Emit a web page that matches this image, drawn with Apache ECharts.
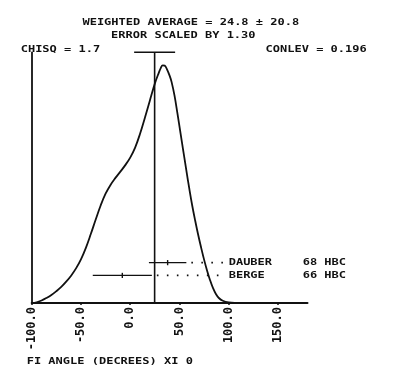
<!DOCTYPE html>
<html>
<head>
<meta charset="utf-8">
<style>
  html, body { margin: 0; padding: 0; background: #ffffff; }
  #chart { width: 393px; height: 382px; }
</style>
<script src="https://cdn.jsdelivr.net/npm/echarts@6/dist/echarts.min.js"></script>
</head>
<body>
<div id="chart"></div>
<script>
// Ideogram of the phi-angle measurements
const tickValues = [-100, -50, 0, 50, 100, 150];
const tickLabels = ['-100.0', '-50.0', '0.0', '50.0', '100.0', '150.0'];

const curveX = [-100, -95, -90, -85, -80, -75, -70, -65, -60, -55, -50, -45, -40, -35, -30, -25, -20, -15, -10, -5, 0, 5, 10, 15, 20, 25, 29, 31, 33, 35, 37, 40, 42, 45, 48, 51, 54, 57, 60, 63, 66, 69, 72, 75, 78, 81, 84, 87, 90, 94, 100, 106];
const curveY = [0, 0.003, 0.010, 0.020, 0.032, 0.047, 0.064, 0.085, 0.109, 0.138, 0.174, 0.220, 0.275, 0.333, 0.389, 0.436, 0.471, 0.499, 0.524, 0.550, 0.580, 0.620, 0.675, 0.740, 0.808, 0.875, 0.918, 0.937, 0.948, 0.947, 0.935, 0.907, 0.882, 0.827, 0.755, 0.680, 0.604, 0.529, 0.456, 0.388, 0.328, 0.272, 0.221, 0.173, 0.130, 0.092, 0.060, 0.036, 0.020, 0.009, 0.002, 0];

const expNames = ['DAUBER', 'BERGE'];
const expYears = ['68', '66'];
const expTech = ['HBC', 'HBC'];
const expValues = [38, -8];
const expErrors = [19, 30];
const expRows = [0.161, 0.110];

const average = 24.8;
const avgError = 20.8;
const errScale = 1.30;
const chisq = 1.7;
const conlev = 0.196;
const axisTitle = 'FI ANGLE (DECREES) XI 0';

const FONT = 'bold 12px "DejaVu Sans Mono"';
const INK = '#111111';
const LABEL_AT = 100;     // x value where the experiment labels start
const TEXT_SQUASH = 0.78; // plotter lettering is wide and short

function txt(text, x, y, align) {
  return {
    type: 'text', x: x, y: y, scaleY: TEXT_SQUASH,
    style: { text: text, font: FONT, fill: INK, textAlign: align, textVerticalAlign: 'middle' }
  };
}

const chart = echarts.init(document.getElementById('chart'));

chart.setOption({
  animation: false,
  backgroundColor: '#ffffff',
  grid: { left: 31.7, top: 52.3, right: 85.5, bottom: 79, containLabel: false },
  xAxis: {
    type: 'value', min: -100, max: 180, interval: 50,
    axisLine: { show: true, onZero: false, lineStyle: { color: INK, width: 2 } },
    axisTick: { show: true, length: 2, lineStyle: { color: INK, width: 1.5 } },
    splitLine: { show: false },
    axisLabel: {
      rotate: 90, margin: 4, color: INK,
      fontFamily: 'DejaVu Sans Mono', fontWeight: 'bold', fontSize: 12,
      showMaxLabel: false,
      formatter: function (v) {
        const i = tickValues.indexOf(v);
        return i >= 0 ? tickLabels[i] : '';
      }
    }
  },
  yAxis: {
    type: 'value', min: 0, max: 1,
    axisLine: { show: true, onZero: false, lineStyle: { color: INK, width: 1.8 } },
    axisTick: { show: false },
    axisLabel: { show: false },
    splitLine: { show: false }
  },
  graphic: [
    txt('WEIGHTED AVERAGE = ' + average.toFixed(1) + ' \u00b1 ' + avgError.toFixed(1), 190.8, 22.5, 'center'),
    txt('ERROR SCALED BY ' + errScale.toFixed(2), 183.3, 35.5, 'center'),
    txt('CHISQ = ' + chisq.toFixed(1), 20.7, 50, 'left'),
    txt('CONLEV = ' + conlev.toFixed(3), 366.7, 50, 'right'),
    txt(axisTitle, 26.7, 361.7, 'left')
  ],
  series: [
    {
      type: 'line',
      data: curveX.map((x, i) => [x, curveY[i]]),
      smooth: 0.4,
      showSymbol: false,
      lineStyle: { color: INK, width: 1.8 },
      z: 3
    },
    {
      // weighted average with its scaled error
      type: 'custom',
      data: [[average, avgError]],
      renderItem: function (params, api) {
        const m = api.value(0), e = api.value(1);
        const p0 = api.coord([m, 0]), p1 = api.coord([m, 1]);
        const l = api.coord([m - e, 1]), r = api.coord([m + e, 1]);
        return {
          type: 'group',
          children: [
            { type: 'line', shape: { x1: p0[0], y1: p0[1], x2: p1[0], y2: p1[1] }, style: { stroke: INK, lineWidth: 1.6 } },
            { type: 'line', shape: { x1: l[0], y1: l[1], x2: r[0], y2: r[1] }, style: { stroke: INK, lineWidth: 1.6 } }
          ]
        };
      },
      z: 4
    },
    {
      // individual measurements
      type: 'custom',
      data: expValues.map((v, i) => [v, expErrors[i], expRows[i], i]),
      renderItem: function (params, api) {
        const v = api.value(0), e = api.value(1), row = api.value(2), i = api.value(3);
        const l = api.coord([v - e, row]), r = api.coord([v + e, row]), c = api.coord([v, row]);
        const lab = api.coord([LABEL_AT, row]);
        const squash = { scaleY: TEXT_SQUASH };
        return {
          type: 'group',
          children: [
            { type: 'line', shape: { x1: l[0], y1: l[1], x2: r[0], y2: r[1] }, style: { stroke: INK, lineWidth: 1.4 } },
            { type: 'line', shape: { x1: c[0], y1: c[1] - 2.6, x2: c[0], y2: c[1] + 2.6 }, style: { stroke: INK, lineWidth: 1.4 } },
            { type: 'line', shape: { x1: r[0] + 5, y1: r[1], x2: lab[0] - 2, y2: r[1] },
              style: { stroke: INK, lineWidth: 1.6, lineDash: [1.6, 8.4] } },
            Object.assign({ type: 'text', x: lab[0], y: lab[1],
              style: { text: expNames[i], font: FONT, fill: INK, textAlign: 'left', textVerticalAlign: 'middle' } }, squash),
            Object.assign({ type: 'text', x: lab[0] + 74, y: lab[1],
              style: { text: expYears[i] + ' ' + expTech[i], font: FONT, fill: INK, textAlign: 'left', textVerticalAlign: 'middle' } }, squash)
          ]
        };
      },
      z: 5
    }
  ]
});
</script>
</body>
</html>
